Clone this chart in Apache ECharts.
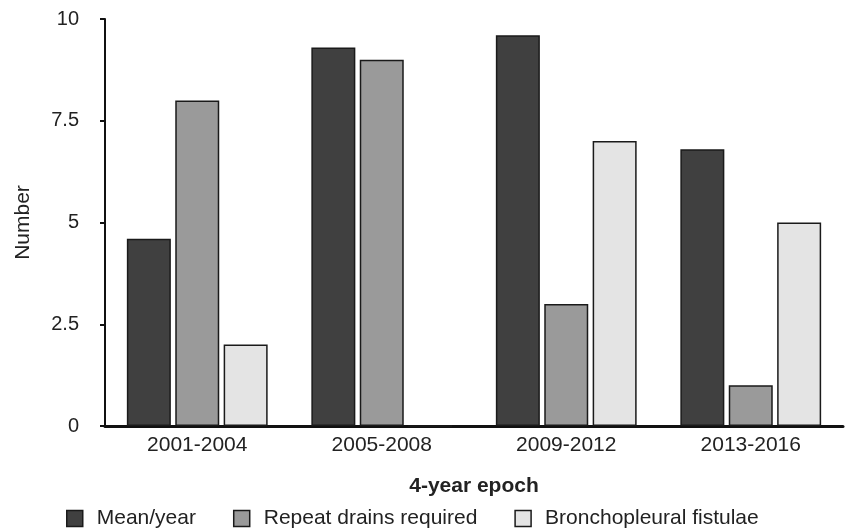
<!DOCTYPE html>
<html>
<head>
<meta charset="utf-8">
<script src="https://cdn.jsdelivr.net/npm/echarts@6/dist/echarts.min.js"></script>
<style>html,body{margin:0;padding:0;background:#fff;}#c{width:846px;height:532px;}</style>
</head>
<body>
<div id="c"></div>
<script>
var categories = ['2001-2004', '2005-2008', '2009-2012', '2013-2016'];
var seriesNames = ['Mean/year', 'Repeat drains required', 'Bronchopleural fistulae'];
var meanPerYear = [4.6, 9.3, 9.6, 6.8];
var repeatDrains = [8, 9, 3, 1];
var bronchoFistulae = [2, 0, 7, 5];
var yTicks = [0, 2.5, 5, 7.5, 10];

var colors = ['#404040', '#9a9a9a', '#e4e4e4'];
var font = 'Liberation Sans, Arial, Helvetica, sans-serif';
var dataSets = [meanPerYear, repeatDrains, bronchoFistulae];

var chart = echarts.init(document.getElementById('c'), null, {renderer: 'canvas'});
chart.setOption({
  animation: false,
  backgroundColor: '#fff',
  textStyle: {fontFamily: font, color: '#222'},
  grid: {left: 105, right: 3, top: 19, bottom: 106, containLabel: false},
  legend: {
    bottom: -2, left: 61,
    icon: 'rect', itemWidth: 16, itemHeight: 16, itemGap: 37,
    textStyle: {fontFamily: font, fontSize: 21, color: '#222', padding: [0, 0, 0, 9]},
    itemStyle: {borderColor: '#1a1a1a', borderWidth: 1.5},
    data: seriesNames
  },
  xAxis: {
    type: 'category',
    data: categories,
    name: '4-year epoch',
    nameLocation: 'middle',
    nameGap: 50,
    nameTextStyle: {fontFamily: font, fontSize: 21, fontWeight: 'bold', color: '#222'},
    axisLine: {lineStyle: {color: '#111', width: 3}},
    axisTick: {show: false},
    axisLabel: {fontFamily: font, fontSize: 21, color: '#222', margin: 9}
  },
  yAxis: {
    type: 'value',
    min: yTicks[0], max: yTicks[yTicks.length - 1], interval: 2.5,
    name: 'Number',
    nameLocation: 'middle',
    nameGap: 71,
    nameTextStyle: {fontFamily: font, fontSize: 21, color: '#222'},
    axisLine: {show: true, lineStyle: {color: '#111', width: 2}},
    axisTick: {show: true, length: 5, lineStyle: {color: '#111', width: 2}},
    axisLabel: {fontFamily: font, fontSize: 20, color: '#222', margin: 26},
    splitLine: {show: false}
  },
  series: dataSets.map(function (d, i) {
    return {
      name: seriesNames[i],
      type: 'bar',
      data: d,
      barWidth: 44,
      barGap: '10%',
      itemStyle: {color: colors[i], borderColor: '#1a1a1a', borderWidth: 1.5}
    };
  })
});
</script>
</body>
</html>
